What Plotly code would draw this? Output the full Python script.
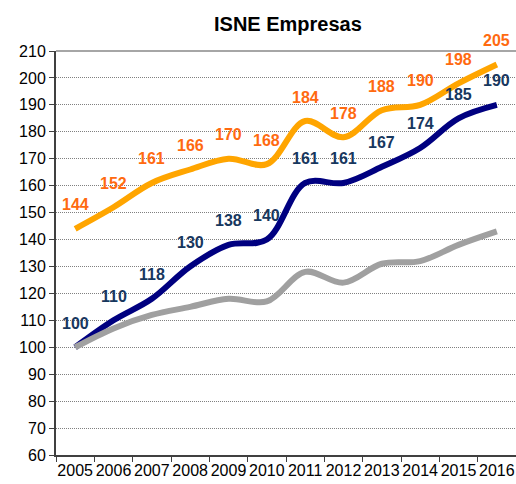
import plotly.graph_objects as go

# Jahre und Indexwerte (2005 = 100 fuer Empresas-Blau)
years = ["2005", "2006", "2007", "2008", "2009", "2010",
         "2011", "2012", "2013", "2014", "2015", "2016"]
orange_vals = [144, 152, 161, 166, 170, 168, 184, 178, 188, 190, 198, 205]
blue_vals = [100, 110, 118, 130, 138, 140, 161, 161, 167, 174, 185, 190]
gray_vals = [100, 107, 112, 115, 118, 117, 128, 124, 131, 132, 138, 143]

ORANGE_LINE = "#FFA500"
ORANGE_TEXT = "#FF6A10"
BLUE_LINE = "#000080"
BLUE_TEXT = "#17375E"
GRAY_LINE = "#A0A0A0"

fig = go.Figure()

for vals, color in [(orange_vals, ORANGE_LINE), (blue_vals, BLUE_LINE), (gray_vals, GRAY_LINE)]:
    fig.add_trace(go.Scatter(x=years, y=vals, mode="lines",
                             line=dict(color=color, width=6, shape="spline", smoothing=1),
                             hoverinfo="x+y", showlegend=False))

# Datenbeschriftungen ueber den Punkten (x als Kategorie-Index)
annotations = []
for vals, color in [(orange_vals, ORANGE_TEXT), (blue_vals, BLUE_TEXT)]:
    for i, v in enumerate(vals):
        annotations.append(dict(x=i, y=v, xref="x", yref="y", text="<b>%d</b>" % v,
                                showarrow=False, yshift=24,
                                font=dict(family="Liberation Sans, Arial", size=16, color=color)))

fig.update_layout(
    width=516, height=484,
    margin=dict(l=56, r=0, t=51, b=29),
    paper_bgcolor="white", plot_bgcolor="white",
    title=dict(text="<b>ISNE Empresas</b>", x=0.558, xanchor="center", y=0.95, yanchor="middle",
               font=dict(family="Liberation Sans, Arial", size=20, color="black")),
    font=dict(family="Liberation Sans, Arial", size=16, color="black"),
    annotations=annotations,
    shapes=[dict(type="line", xref="paper", yref="paper", x0=0, x1=1, y0=1, y1=1,
                 line=dict(color="#A6A6A6", width=2))],
)

fig.update_xaxes(type="category", range=[-0.5, 11.5], tickson="boundaries",
                 ticks="outside", ticklen=5, tickcolor="#404040", tickwidth=1, tickangle=0,
                 showline=True, linecolor="#404040", linewidth=2, showgrid=False,
                 tickfont=dict(size=16), automargin=False, fixedrange=True)
fig.update_yaxes(range=[60, 210], dtick=10, ticks="outside", ticklen=5, tickcolor="#404040",
                 showline=True, linecolor="#404040", linewidth=2,
                 showgrid=True, gridcolor="#808080", griddash="1px,1px", gridwidth=1,
                 zeroline=False, tickfont=dict(size=16), automargin=False, fixedrange=True)

# Body-Rand entfernen, damit die Figur genau ins Fenster passt
fig.write_html("out.html", config={"displayModeBar": False},
               post_script="document.body.style.margin='0';document.body.style.overflow='hidden';")
